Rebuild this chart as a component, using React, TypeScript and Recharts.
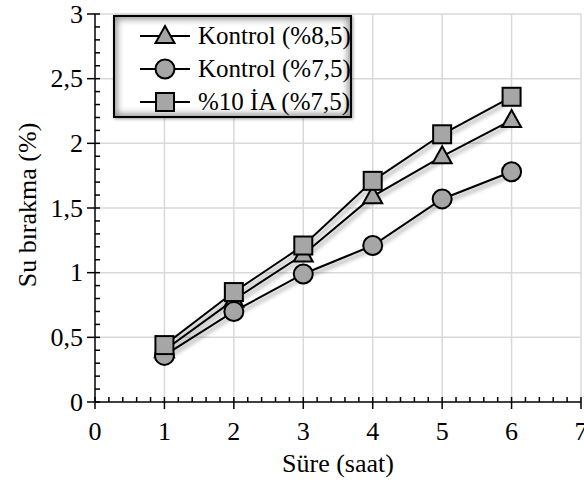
import React from 'react';
import { LineChart, Line, XAxis, YAxis, ReferenceLine, Legend } from 'recharts';

// süre (saat)
const hours = [1, 2, 3, 4, 5, 6];
// su bırakma (%)
const kontrol85 = [0.4, 0.79, 1.14, 1.59, 1.9, 2.18];
const kontrol75 = [0.36, 0.7, 0.99, 1.21, 1.57, 1.78];
const ia10 = [0.44, 0.85, 1.21, 1.71, 2.07, 2.36];

const xMajorTicks = [0, 1, 2, 3, 4, 5, 6, 7];
const yMajorTicks = [0, 0.5, 1, 1.5, 2, 2.5, 3];
// minor ticks: x every 0.2, y every 0.1
const xAllTicks = Array.from({ length: 36 }, (_, i) => +(i * 0.2).toFixed(1));
const yAllTicks = Array.from({ length: 31 }, (_, i) => +(i * 0.1).toFixed(1));

const series = [
  { key: 'k85', name: 'Kontrol (%8,5)', shape: 'triangle', values: kontrol85 },
  { key: 'k75', name: 'Kontrol (%7,5)', shape: 'circle', values: kontrol75 },
  { key: 'ia', name: '%10 İA (%7,5)', shape: 'square', values: ia10 },
];

const data = hours.map((h, i) => {
  const row: any = { h };
  series.forEach((s) => (row[s.key] = s.values[i]));
  return row;
});

const FONT = "'Liberation Serif', 'Times New Roman', serif";
const MARKER_FILL = '#a6a6a6';

const Marker = ({ shape, cx, cy }: { shape: string; cx: number; cy: number }) => {
  const common = { fill: MARKER_FILL, stroke: '#000', strokeWidth: 2 };
  if (shape === 'circle') return <circle cx={cx} cy={cy} r={9.5} {...common} />;
  if (shape === 'square') return <rect x={cx - 9} y={cy - 9} width={18} height={18} {...common} />;
  return (
    <polygon
      points={`${cx},${cy - 10} ${cx + 9.5},${cy + 7} ${cx - 9.5},${cy + 7}`}
      {...common}
      strokeLinejoin="miter"
    />
  );
};

const fmt = (v: number) => String(v).replace('.', ',');
const near = (v: number, step: number) => Math.abs(v / step - Math.round(v / step)) < 1e-6;
const textStyle = { fontFamily: FONT, fontSize: 26, fill: '#000' };

const YTick = ({ x, y, payload }: any) => {
  const v = payload.value;
  const major = near(v, 0.5);
  return (
    <g>
      <line x1={major ? x - 8 : x} x2={x + 5} y1={y} y2={y} stroke="#000" strokeWidth={1.5} />
      {major && (
        <text x={x - 12} y={y} textAnchor="end" dominantBaseline="central" style={textStyle}>
          {fmt(v)}
        </text>
      )}
    </g>
  );
};

const XTick = ({ x, y, payload }: any) => {
  const v = payload.value;
  const major = near(v, 1);
  return (
    <g>
      <line x1={x} x2={x} y1={y - 5} y2={major ? y + 7 : y} stroke="#000" strokeWidth={1.5} />
      {major && (
        <text x={x} y={y + 29} textAnchor="middle" dominantBaseline="central" style={textStyle}>
          {fmt(v)}
        </text>
      )}
    </g>
  );
};

const XLabel = ({ viewBox }: any) => (
  <text
    x={viewBox.x + viewBox.width / 2}
    y={viewBox.y + 61}
    textAnchor="middle"
    dominantBaseline="central"
    style={textStyle}
  >
    Süre (saat)
  </text>
);

const YLabel = ({ viewBox }: any) => {
  const cx = 27;
  const cy = viewBox.y + viewBox.height / 2 - 3;
  return (
    <text
      x={cx}
      y={cy}
      transform={`rotate(-90 ${cx} ${cy})`}
      textAnchor="middle"
      dominantBaseline="central"
      style={textStyle}
    >
      Su bırakma (%)
    </text>
  );
};

const LegendBox = () => (
  <div
    style={{
      width: 239,
      height: 103,
      boxSizing: 'border-box',
      border: '2px solid #000',
      background: '#fff',
      boxShadow: 'inset 0 0 7px 2px rgba(0,0,0,0.45), 1px 1px 3px rgba(0,0,0,0.4)',
      fontFamily: FONT,
      fontSize: 25,
      paddingTop: 2,
      color: '#000',
    }}
  >
    {series.map((s) => (
      <div key={s.key} style={{ display: 'flex', alignItems: 'center', height: 33 }}>
        <svg width={80} height={30} style={{ marginLeft: 3, flexShrink: 0 }}>
          <line x1={22} x2={72} y1={15} y2={15} stroke="#000" strokeWidth={2} />
          <Marker shape={s.shape} cx={47} cy={15} />
        </svg>
        <span style={{ whiteSpace: 'nowrap', fontFamily: FONT }}>{s.name}</span>
      </div>
    ))}
  </div>
);

export default function App() {
  return (
    <div style={{ position: 'absolute', left: 0, top: 0, width: 584, height: 483, background: '#fff' }}>
      <style>{`.shadowed { filter: drop-shadow(2px 3px 2px rgba(0,0,0,0.45)); }`}</style>
      <LineChart width={584} height={483} data={data} margin={{ top: 14, right: 3, left: 0, bottom: 0 }}>
        {yMajorTicks.slice(1).map((v) => (
          <ReferenceLine key={'gy' + v} y={v} stroke="#d9d9d9" strokeWidth={1.5} ifOverflow="visible" />
        ))}
        {xMajorTicks.slice(1).map((v) => (
          <ReferenceLine key={'gx' + v} x={v} stroke="#d9d9d9" strokeWidth={1.5} ifOverflow="visible" />
        ))}
        <XAxis
          dataKey="h"
          type="number"
          domain={[0, 7]}
          ticks={xAllTicks}
          interval={0}
          tickLine={false}
          tickSize={0}
          tickMargin={0}
          tick={<XTick />}
          axisLine={{ stroke: '#000', strokeWidth: 1.5 }}
          height={81}
          label={<XLabel />}
        />
        <YAxis
          type="number"
          domain={[0, 3]}
          ticks={yAllTicks}
          interval={0}
          tickLine={false}
          tickSize={0}
          tickMargin={0}
          tick={<YTick />}
          axisLine={{ stroke: '#000', strokeWidth: 1.5 }}
          width={95}
          label={<YLabel />}
        />
        {series.map((s) => (
          <Line
            key={s.key}
            dataKey={s.key}
            name={s.name}
            className="shadowed"
            stroke="#000"
            strokeWidth={2}
            isAnimationActive={false}
            dot={(p: any) => <Marker key={s.key + p.index} shape={s.shape} cx={p.cx} cy={p.cy} />}
            activeDot={false}
          />
        ))}
        <Legend
          layout="vertical"
          align="center"
          verticalAlign="middle"
          wrapperStyle={{ position: 'absolute', top: 15, left: 113, width: 239, height: 103 }}
          content={() => <LegendBox />}
        />
      </LineChart>
    </div>
  );
}
